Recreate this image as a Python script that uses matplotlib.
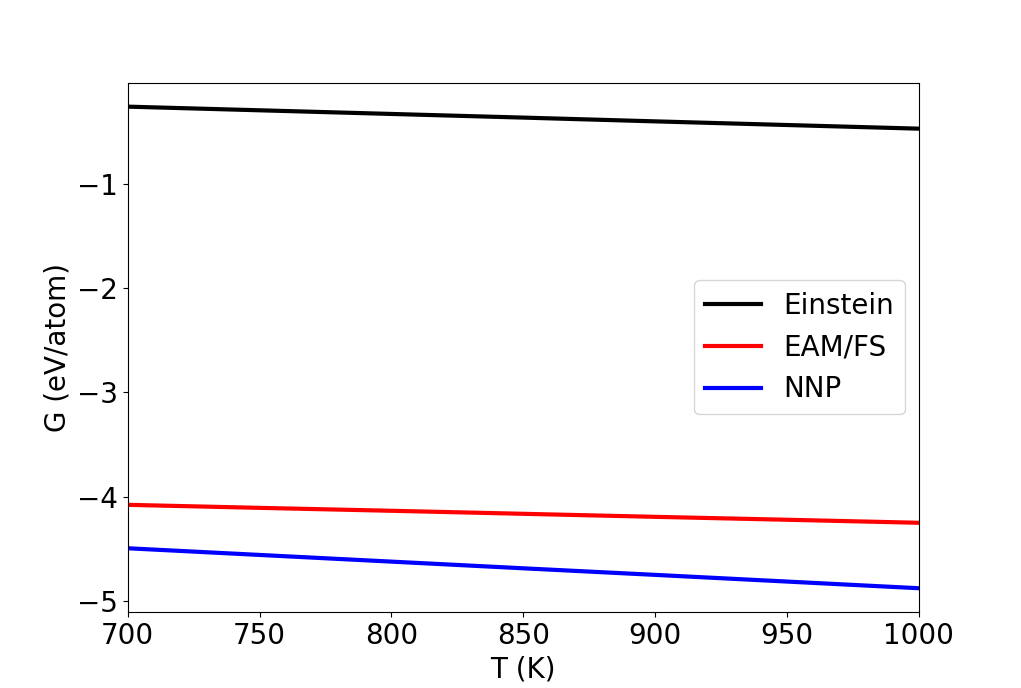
import matplotlib; matplotlib.use("Agg")
import matplotlib.pyplot as plt
import numpy as np

T = [700, 750, 800, 850, 900, 950, 1000]
G_einstein = [-0.263, -0.298, -0.333, -0.368, -0.404, -0.439, -0.474]
G_eam = [-4.077, -4.106, -4.134, -4.163, -4.192, -4.220, -4.249]
G_nnp = [-4.493, -4.557, -4.621, -4.685, -4.748, -4.812, -4.876]

plt.rcParams["font.size"] = 20
fig, ax = plt.subplots(figsize=(10.21, 6.88), dpi=100)
ax.plot(T, G_einstein, color="black", lw=3, label="Einstein")
ax.plot(T, G_eam, color="red", lw=3, label="EAM/FS")
ax.plot(T, G_nnp, color="blue", lw=3, label="NNP")
ax.set_xlim(700, 1000)
ax.set_xlabel("T (K)")
ax.set_ylabel("G (eV/atom)")
ax.legend(loc="center right")
plt.savefig("out.png", dpi=100)
